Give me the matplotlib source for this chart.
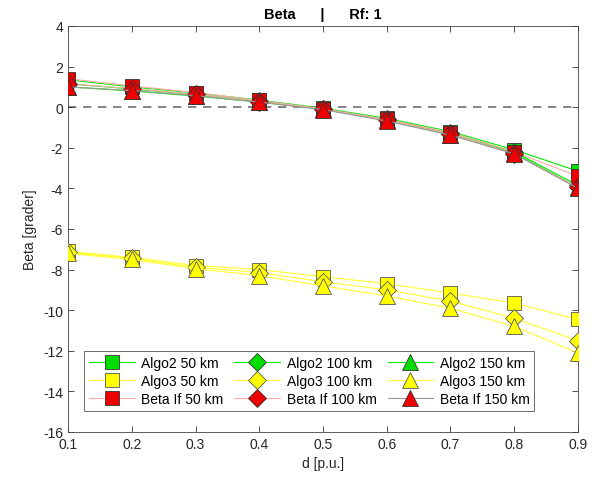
import numpy as np
import matplotlib.pyplot as plt

plt.rcParams['font.family'] = ['Liberation Sans', 'DejaVu Sans']
plt.rcParams['axes.unicode_minus'] = False

d = [0.1, 0.2, 0.3, 0.4, 0.5, 0.6, 0.7, 0.8, 0.9]

# Algo2 (green)
algo2_50 = [1.35, 1.00, 0.70, 0.35, -0.05, -0.55, -1.20, -2.10, -3.15]
algo2_100 = [1.15, 0.90, 0.62, 0.30, -0.08, -0.60, -1.28, -2.20, -3.85]
algo2_150 = [1.00, 0.80, 0.55, 0.25, -0.10, -0.65, -1.35, -2.25, -3.95]

# Algo3 (yellow)
algo3_50 = [-7.10, -7.40, -7.80, -8.00, -8.35, -8.70, -9.15, -9.65, -10.45]
algo3_100 = [-7.15, -7.45, -7.88, -8.15, -8.60, -9.00, -9.55, -10.40, -11.50]
algo3_150 = [-7.20, -7.50, -7.95, -8.30, -8.80, -9.30, -9.90, -10.80, -12.10]

# Beta If (red markers)
betaif_50 = [1.40, 1.05, 0.72, 0.33, -0.08, -0.60, -1.25, -2.20, -3.40]
betaif_100 = [1.15, 0.92, 0.63, 0.28, -0.10, -0.65, -1.32, -2.30, -3.95]
betaif_150 = [1.00, 0.82, 0.57, 0.25, -0.12, -0.68, -1.38, -2.30, -4.00]

fig = plt.figure(figsize=(5.95, 4.81), dpi=100)
ax = fig.add_axes([0.1143, 0.0998, 0.8571, 0.8441])

ax.axhline(0, color='#707070', linestyle='--', linewidth=1.2, dashes=(5, 4), zorder=1)

markers = ['s', 'D', '^']
msizes = [10, 9, 12]
dists = ['50 km', '100 km', '150 km']
h = {}
for i, (y2, y3, yb) in enumerate(zip([algo2_50, algo2_100, algo2_150],
                                    [algo3_50, algo3_100, algo3_150],
                                    [betaif_50, betaif_100, betaif_150])):
    m, ms = markers[i], msizes[i]
    h[('a2', i)], = ax.plot(d, y2, color='#00ee00', lw=0.8, marker=m, ms=ms,
                            mfc='#00dd00', mec='#333333', mew=0.6,
                            label='Algo2 ' + dists[i], zorder=3)
    h[('a3', i)], = ax.plot(d, y3, color='#ffff30', lw=0.8, marker=m, ms=ms,
                            mfc='#ffff00', mec='#555555', mew=0.6,
                            label='Algo3 ' + dists[i], zorder=3)
    lc = '#999999' if i == 2 else '#ffaaaa'
    h[('bi', i)], = ax.plot(d, yb, color=lc, lw=0.8, marker=m, ms=ms,
                            mfc='#ee0000', mec='#333333', mew=0.6,
                            label='Beta If ' + dists[i], zorder=4)

handles = [h[(k, i)] for i in range(3) for k in ['a2', 'a3', 'bi']]
leg = ax.legend(handles=handles, ncol=3, loc='lower left',
                bbox_to_anchor=(0.018, 0.035), fontsize=10, frameon=True,
                fancybox=False, edgecolor='#555555', framealpha=1,
                handlelength=3.3, handletextpad=0.45, columnspacing=0.8,
                labelspacing=0.3, borderpad=0.35)
leg.get_frame().set_linewidth(0.6)

ax.set_xlim(0.1, 0.9)
ax.set_ylim(-16, 4)
ax.set_xticks(d)
ax.set_xticklabels(['0.1', '0.2', '0.3', '0.4', '0.5', '0.6', '0.7', '0.8', '0.9'])
ax.set_yticks(np.arange(-16, 5, 2))
ax.tick_params(direction='in', top=True, right=True, labelsize=10,
               length=4, width=0.6, color='#333333', labelcolor='#262626')
for s in ax.spines.values():
    s.set_linewidth(0.6)
    s.set_color('#444444')

ax.set_xlabel('d [p.u.]', fontsize=10, color='#262626')
ax.set_ylabel('Beta [grader]', fontsize=10, color='#262626')
ax.set_title('Beta      |      Rf: 1', fontsize=10.5, fontweight='bold', pad=6)

fig.savefig('out.png', dpi=100)
